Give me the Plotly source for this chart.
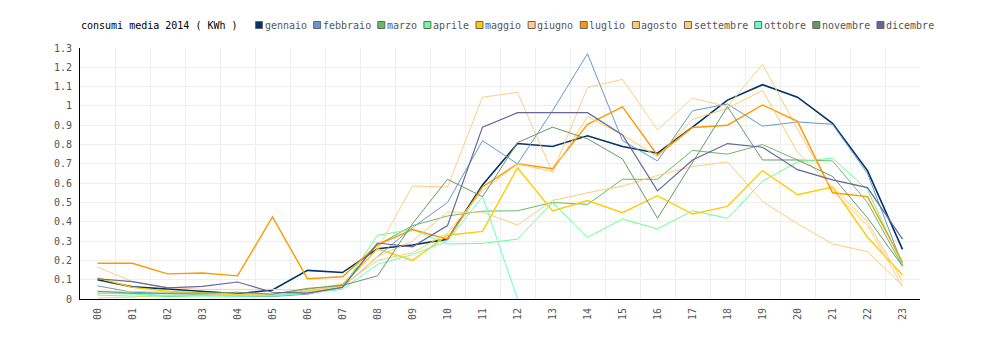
import plotly.graph_objects as go

hours = ["%02d" % h for h in range(24)]
months = ["gennaio", "febbraio", "marzo", "aprile", "maggio", "giugno",
          "luglio", "agosto", "settembre", "ottobre", "novembre", "dicembre"]
colors = ["#003366", "#6699cc", "#66bb66", "#66ff99", "#ffcc00", "#ffcc88",
          "#ff9900", "#ffcc66", "#ffcc77", "#66ffcc", "#669966", "#666699"]
widths = [1.6, 1, 1, 1, 1.4, 1, 1.4, 1, 1, 1, 1, 1.2]

gennaio = [0.10, 0.063, 0.052, 0.04, 0.027, 0.047, 0.148, 0.137, 0.26, 0.28, 0.31, 0.59,
           0.805, 0.79, 0.845, 0.79, 0.755, 0.89, 1.03, 1.11, 1.045, 0.91, 0.665, 0.257]
febbraio = [0.068, 0.035, 0.028, 0.022, 0.015, 0.013, 0.025, 0.06, 0.22, 0.37, 0.50, 0.82,
            0.70, 0.975, 1.27, 0.82, 0.715, 0.975, 1.01, 0.895, 0.917, 0.905, 0.65, 0.176]
marzo = [0.03, 0.03, 0.012, 0.02, 0.02, 0.02, 0.05, 0.075, 0.28, 0.38, 0.43, 0.455,
         0.457, 0.50, 0.49, 0.62, 0.62, 0.77, 0.75, 0.80, 0.72, 0.715, 0.50, 0.17]
aprile = [0.02, 0.015, 0.015, 0.015, 0.012, 0.015, 0.03, 0.06, 0.33, 0.36, 0.285, 0.288,
          0.31, 0.50, 0.32, 0.414, 0.363, 0.457, 0.418, 0.61, 0.71, 0.73, 0.565, 0.176]
maggio = [0.11, 0.06, 0.04, 0.03, 0.022, 0.025, 0.04, 0.07, 0.26, 0.20, 0.33, 0.35,
          0.68, 0.456, 0.51, 0.447, 0.535, 0.44, 0.48, 0.665, 0.54, 0.58, 0.32, 0.124]
giugno = [0.165, 0.09, 0.06, 0.05, 0.05, 0.05, 0.045, 0.08, 0.26, 0.585, 0.58, 1.045,
          1.07, 0.655, 1.095, 1.138, 0.876, 1.04, 0.996, 1.216, 0.88, 0.56, 0.38, 0.065]
luglio = [0.185, 0.185, 0.13, 0.135, 0.12, 0.425, 0.105, 0.115, 0.28, 0.36, 0.31, 0.58,
          0.70, 0.675, 0.905, 0.995, 0.745, 0.888, 0.90, 1.005, 0.92, 0.55, 0.53, 0.19]
agosto = [0.005, 0.01, 0.02, 0.02, 0.02, 0.02, 0.04, 0.07, 0.20, 0.24, 0.34, 0.56,
          0.70, 0.66, 0.945, 0.85, 0.737, 0.93, 0.988, 1.08, 0.76, 0.58, 0.40, 0.09]
settembre = [0.04, 0.04, 0.035, 0.03, 0.025, 0.025, 0.035, 0.06, 0.22, 0.30, 0.45, 0.45,
             0.383, 0.51, 0.55, 0.585, 0.64, 0.686, 0.71, 0.505, 0.39, 0.285, 0.245, 0.07]
ottobre = [0.03, 0.025, 0.02, 0.02, 0.015, 0.02, 0.03, 0.05, 0.18, 0.23, 0.30, 0.53,
           0, None, None, None, None, None, None, None, None, None, None, None]
novembre = [0.04, 0.03, 0.03, 0.03, 0.035, 0.025, 0.055, 0.07, 0.12, 0.39, 0.62, 0.53,
            0.81, 0.89, 0.83, 0.725, 0.418, 0.71, 0.996, 0.72, 0.72, 0.635, 0.42, 0.17]
dicembre = [0.105, 0.09, 0.058, 0.065, 0.088, 0.035, 0.03, 0.06, 0.29, 0.27, 0.38, 0.89,
            0.965, 0.965, 0.965, 0.85, 0.56, 0.72, 0.805, 0.786, 0.67, 0.617, 0.577, 0.31]

series = [gennaio, febbraio, marzo, aprile, maggio, giugno, luglio, agosto,
          settembre, ottobre, novembre, dicembre]

title_text = "consumi media 2014 ( KWh )"
FONT = "DejaVu Sans Mono, monospace"

fig = go.Figure()
for name, vals, col, w in zip(months, series, colors, widths):
    fig.add_trace(go.Scatter(x=hours, y=vals, name=name, mode="lines",
                             line=dict(color=col, width=w), showlegend=False,
                             connectgaps=False, hoverinfo="skip"))

# plot area geometry (pixels)
L, R, T, B = 80, 80, 48, 41
W, H = 1000, 340
PW, PH = W - L - R, H - T - B


def px_x(px):
    return (px - L) / PW


def px_y(py):
    return (H - B - py) / PH


annotations = []
shapes = []
annotations.append(dict(x=px_x(79), y=px_y(25), xref="paper", yref="paper",
                        text=title_text, showarrow=False, xanchor="left",
                        yanchor="middle", font=dict(family=FONT, size=10, color="#000")))
CH = 6.02
xpos = 255.5
for name, col in zip(months, colors):
    shapes.append(dict(type="rect", xref="paper", yref="paper",
                       x0=px_x(xpos), x1=px_x(xpos + 7), y0=px_y(21.5), y1=px_y(28.5),
                       fillcolor=col, line=dict(color="#666666", width=1)))
    annotations.append(dict(x=px_x(xpos + 8), y=px_y(25), xref="paper", yref="paper",
                            text=name, showarrow=False, xanchor="left", yanchor="middle",
                            borderpad=0,
                            font=dict(family=FONT, size=10, color="#555555")))
    xpos += 16 + CH * len(name)

fig.update_layout(
    width=W, height=H, margin=dict(l=L, r=R, t=T, b=B),
    paper_bgcolor="white", plot_bgcolor="white",
    showlegend=False, hovermode=False,
    annotations=annotations, shapes=shapes,
    font=dict(family=FONT, size=10, color="#555555"),
)
fig.update_xaxes(type="category", categoryorder="array", categoryarray=hours,
                 range=[-0.5, len(hours) - 0.5],
                 tickson="boundaries", showgrid=True, gridcolor="#eeeeee", gridwidth=1,
                 showline=True, linecolor="#000000", linewidth=1, ticks="",
                 tickangle=-90, ticklabelstandoff=4, zeroline=False,
                 tickfont=dict(family=FONT, size=10, color="#555555"))
fig.update_yaxes(range=[0, 1.3], dtick=0.1, tick0=0, showgrid=True, gridcolor="#eeeeee",
                 gridwidth=1, showline=True, linecolor="#000000", linewidth=1, ticks="",
                 zeroline=False, ticklabelstandoff=5,
                 tickfont=dict(family=FONT, size=10, color="#555555"))

fig.write_html("out.html")
